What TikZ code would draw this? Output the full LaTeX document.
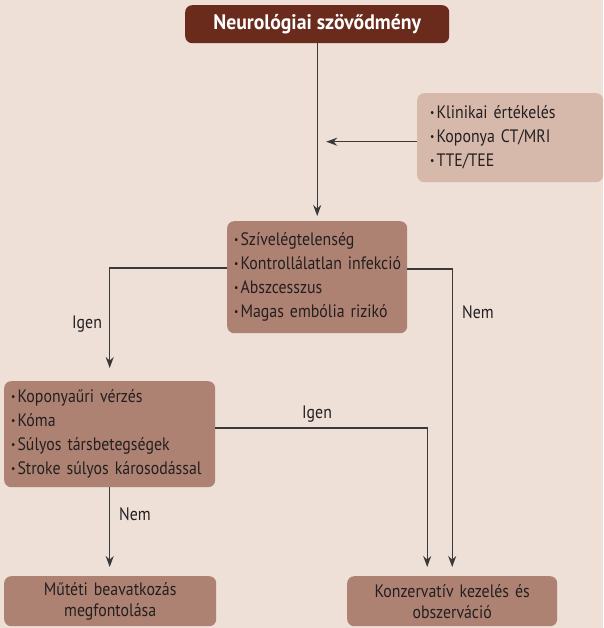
\documentclass[tikz,border=0pt]{standalone}
\usepackage{fontspec}
\setmainfont{PT Sans}[FakeStretch=0.88]
\newfontfamily\titlefont{PT Sans}[FakeStretch=0.94]
\usetikzlibrary{arrows.meta,calc}
\definecolor{bg}{HTML}{EEDFD7}
\definecolor{dark}{HTML}{6A2B1C}
\definecolor{light}{HTML}{D7B9AC}
\definecolor{mid}{HTML}{AE8272}
\definecolor{ln}{HTML}{3A3838}
\definecolor{tx}{HTML}{231F20}
\DeclareRobustCommand\tightsp{\spaceskip=0.2em plus 0.05em\relax}
\tikzset{
  box/.style={draw=none, rounded corners=7pt, anchor=north west, inner sep=0pt, text=tx},
  list/.style={box, align=left, font=\fontsize{18}{24}\selectfont\tightsp},
  cbox/.style={box, fill=mid, align=center, font=\fontsize{18}{21}\selectfont\tightsp},
  arr/.style={draw=ln, line width=1.3pt, -{Stealth[length=11pt,width=8pt]}},
  lbl/.style={text=tx, font=\fontsize{18}{20}\selectfont},
}
\newcommand{\bul}{{\fontsize{11}{11}\selectfont\raisebox{0.45ex}{•}}\hspace{2pt}}
\begin{document}
\begin{tikzpicture}[x=1pt,y=-1pt]
\useasboundingbox (0,0) rectangle (603,628);
\fill[bg] (0,0) rectangle (603,628);
% boxes
\node[box, fill=dark, minimum width=264pt, minimum height=38pt, text=white,
      font=\titlefont\fontsize{21}{22}\selectfont\bfseries] (top) at (185,5) {Neurológiai szövődmény};
\node[list, fill=light, minimum width=186pt, minimum height=89pt, text width=176pt] (info) at (417,93)
  {\hspace*{8pt}\bul Klinikai értékelés\\ \hspace*{8pt}\bul Koponya CT/MRI\\ \hspace*{8pt}\bul TTE/TEE};
\node[list, fill=mid, minimum width=180pt, minimum height=112pt, text width=180pt] (mid) at (227,221)
  {\hspace*{7pt}\bul Szívelégtelenség\\ \hspace*{7pt}\bul Kontrollálatlan infekció\\ \hspace*{7pt}\bul Abszcesszus\\ \hspace*{7pt}\bul Magas embólia rizikó};
\node[list, fill=mid, minimum width=211pt, minimum height=106pt, text width=211pt] (lbox) at (4,381)
  {\hspace*{7pt}\bul Koponyaűri vérzés\\ \hspace*{7pt}\bul Kóma\\ \hspace*{7pt}\bul Súlyos társbetegségek\\ \hspace*{7pt}\bul Stroke súlyos károsodással};
\node[cbox, minimum width=212pt, minimum height=50pt, text width=212pt] (lbot) at (4,576)
  {Műtéti beavatkozás\\ megfontolása};
\node[cbox, minimum width=210pt, minimum height=50pt, text width=210pt] (rbot) at (347,576)
  {Konzervatív kezelés és\\ obszerváció};
% connectors
\draw[arr, shorten >=5pt] (top.south) -- (mid.north);
\draw[arr, shorten >=9pt] ([yshift=-4pt]info.west) -- ([yshift=-4pt]info.west -| top.south);
\draw[arr, shorten >=13pt] ([yshift=-47pt]mid.north west) -| (lbox.north);
\draw[arr, shorten >=9pt] ([yshift=-48pt]mid.north east) -| (rbot.north);
\draw[arr, shorten >=9pt] ([yshift=-47pt]lbox.north east) -| ([xshift=-25pt]rbot.north);
\draw[arr, shorten >=9pt] (lbox.south) -- (lbox.south |- lbot.north);
% labels
\node[lbl] (l1) at (87,324) {Igen};
\node[lbl] (l2) at (478,312) {Nem};
\node[lbl] (l3) at (317,414) {Igen};
\node[lbl] (l4) at (135,514) {Nem};
\end{tikzpicture}
\end{document}
